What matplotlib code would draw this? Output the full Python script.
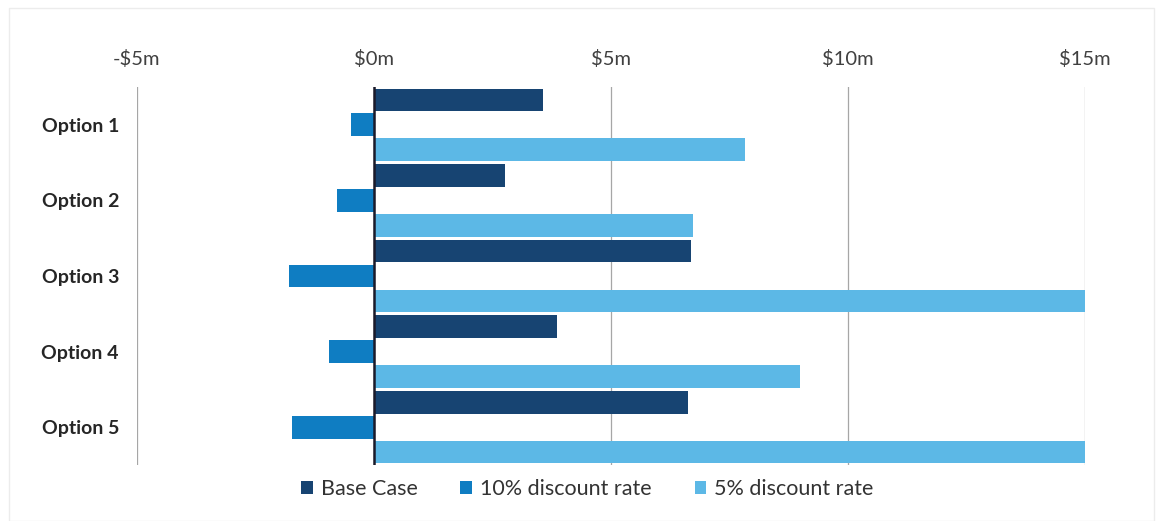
import matplotlib.pyplot as plt
import matplotlib.patches as mpatches
import numpy as np

options = ["Option 1", "Option 2", "Option 3", "Option 4", "Option 5"]
base_case = [3.57, 2.76, 6.69, 3.86, 6.62]
rate_10 = [-0.49, -0.78, -1.79, -0.95, -1.73]
rate_5 = [7.83, 6.73, 15.04, 8.99, 15.02]

series_names = ["Base Case", "10% discount rate", "5% discount rate"]
series_colors = ["#174472", "#0F7DC2", "#5CB8E6"]
x_ticks = [-5, 0, 5, 10, 15]
x_labels = ["-$5m", "$0m", "$5m", "$10m", "$15m"]

plt.rcParams["font.family"] = ["Lato", "DejaVu Sans"]

fig = plt.figure(figsize=(11.56, 5.21), dpi=100, facecolor="white")
ax = fig.add_axes([0.1185, 0.1075, 0.820, 0.7255])

y = np.arange(len(options))
bar_h = 0.30
step = 0.33
for k, (vals, col) in enumerate(zip([base_case, rate_10, rate_5], series_colors)):
    ax.barh(y + (k - 1) * step, vals, height=bar_h, color=col, zorder=3)

ax.set_xlim(-5, 15)
ax.set_ylim(4.5, -0.5)

ax.set_xticks(x_ticks)
ax.set_xticklabels(x_labels, fontsize=14.5, color="#404040")
ax.xaxis.tick_top()
ax.tick_params(axis="x", length=0, pad=14)
ax.set_yticks(y)
ax.set_yticklabels(options, fontsize=14, fontweight="bold", color="#262626")
ax.tick_params(axis="y", length=0, pad=13)

ax.grid(axis="x", color="#a6a6a6", linewidth=0.9, zorder=0)
ax.axvline(0, color="#1a1a2a", linewidth=1.8, zorder=4)
for s in ax.spines.values():
    s.set_visible(False)

handles = [mpatches.Patch(facecolor=c, label=n) for n, c in zip(series_names, series_colors)]
fig.legend(handles=handles, loc="center", bbox_to_anchor=(0.508, 0.061), ncol=3,
           frameon=False, fontsize=15.5, handlelength=0.55, handleheight=0.55,
           handletextpad=0.35, columnspacing=2.0, labelcolor="#333333")

# faint outer frame
fig.add_artist(mpatches.Rectangle((0.008, 0.0), 0.99, 0.985, transform=fig.transFigure,
                                  fill=False, edgecolor="#ececec", linewidth=1.0))

fig.savefig("out.png", dpi=100, facecolor="white")
